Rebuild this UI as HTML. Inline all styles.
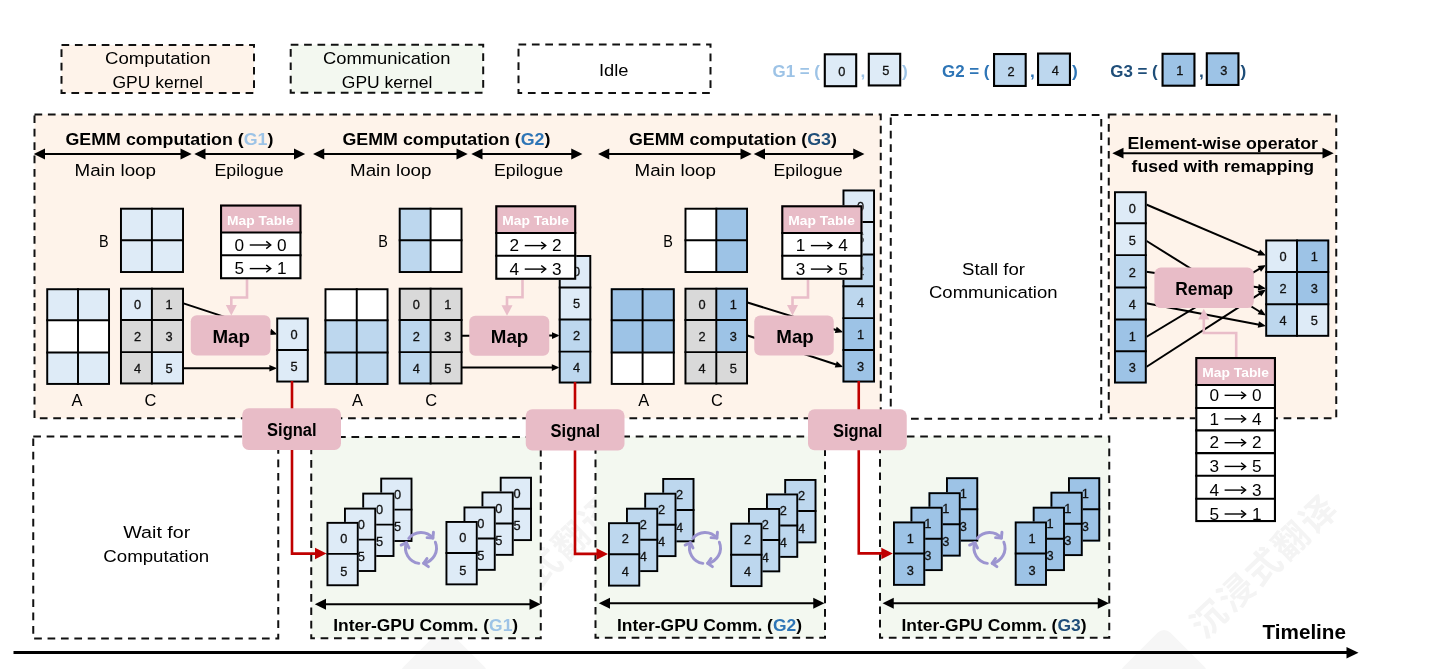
<!DOCTYPE html>
<html lang="en">
<head>
<meta charset="utf-8">
<title>GEMM computation / communication overlap timeline</title>
<style>
html,body{margin:0;padding:0;background:#fff;}
body{width:1440px;height:669px;overflow:hidden;}
svg{display:block;transform:translateZ(0);will-change:transform;}
text{white-space:pre;}
</style>
</head>
<body>
<svg width="1440" height="669" viewBox="0 0 1440 669" font-family='"Liberation Sans", sans-serif'>
<rect width="1440" height="669" fill="#fff"/>
<text transform="translate(544.5 566) rotate(-43.6)" font-family='"Liberation Sans","Noto Sans CJK SC",sans-serif' font-size="35" font-weight="bold" fill="#F4F4F4" text-anchor="middle" dominant-baseline="central" letter-spacing="2.7">沉浸式翻译</text>
<text transform="translate(1264.5 566) rotate(-43.6)" font-family='"Liberation Sans","Noto Sans CJK SC",sans-serif' font-size="35" font-weight="bold" fill="#F4F4F4" text-anchor="middle" dominant-baseline="central" letter-spacing="2.7">沉浸式翻译</text>
<rect x="-33" y="-33" width="66" height="66" rx="9" ry="9" fill="#F6F6F6" transform="translate(444 673) rotate(45)"/>
<rect x="-33" y="-33" width="66" height="66" rx="9" ry="9" fill="#F6F6F6" transform="translate(1164 673) rotate(45)"/>
<rect x="61.5" y="45" width="192.5" height="48" fill="#FEF3EA" stroke="#111" stroke-width="2" stroke-dasharray="7.7 5.7"/>
<text x="105" y="63.75" font-size="16.9" font-weight="normal" fill="#000" text-anchor="start" textLength="105.5" lengthAdjust="spacingAndGlyphs">Computation</text>
<text x="112.5" y="87.5" font-size="16.9" font-weight="normal" fill="#000" text-anchor="start" textLength="90.5" lengthAdjust="spacingAndGlyphs">GPU kernel</text>
<rect x="290.7" y="44.7" width="192.5" height="48" fill="#F3F8F0" stroke="#111" stroke-width="2" stroke-dasharray="7.7 5.7"/>
<text x="323" y="63.7" font-size="16.9" font-weight="normal" fill="#000" text-anchor="start" textLength="127.5" lengthAdjust="spacingAndGlyphs">Communication</text>
<text x="341.8" y="87.7" font-size="16.9" font-weight="normal" fill="#000" text-anchor="start" textLength="90.5" lengthAdjust="spacingAndGlyphs">GPU kernel</text>
<rect x="518.5" y="44.5" width="192" height="48.5" fill="#fff" stroke="#111" stroke-width="2" stroke-dasharray="7.7 5.7"/>
<text x="599" y="76" font-size="16.9" font-weight="normal" fill="#000" text-anchor="start" textLength="29.5" lengthAdjust="spacingAndGlyphs">Idle</text>
<text x="772.5" y="76.75" font-size="17.3" font-weight="bold" fill="#9DC3E6" text-anchor="start" textLength="47.5" lengthAdjust="spacingAndGlyphs">G1 = (</text>
<rect x="824.8" y="54.3" width="31.4" height="31.9" fill="#DEEBF7" stroke="#000" stroke-width="2.1"/>
<text x="841.8" y="75.85" font-size="12.8" fill="#111" stroke="#111" stroke-width="0.3" text-anchor="middle">0</text>
<rect x="868.8" y="53.8" width="31.4" height="31.65" fill="#DEEBF7" stroke="#000" stroke-width="2.1"/>
<text x="885.8" y="75.22" font-size="12.8" fill="#111" stroke="#111" stroke-width="0.3" text-anchor="middle">5</text>
<text x="860.5" y="77" font-size="17.3" font-weight="bold" fill="#9DC3E6" text-anchor="start">,</text>
<text x="902" y="76.75" font-size="17.3" font-weight="bold" fill="#9DC3E6" text-anchor="start">)</text>
<text x="942" y="76.75" font-size="17.3" font-weight="bold" fill="#2E75B6" text-anchor="start" textLength="47.5" lengthAdjust="spacingAndGlyphs">G2 = (</text>
<rect x="994.05" y="54.05" width="31.65" height="31.9" fill="#BDD7EE" stroke="#000" stroke-width="2.1"/>
<text x="1011.17" y="75.6" font-size="12.8" fill="#111" stroke="#111" stroke-width="0.3" text-anchor="middle">2</text>
<rect x="1038.05" y="53.55" width="31.9" height="31.4" fill="#BDD7EE" stroke="#000" stroke-width="2.1"/>
<text x="1055.3" y="74.85" font-size="12.8" fill="#111" stroke="#111" stroke-width="0.3" text-anchor="middle">4</text>
<text x="1030" y="77" font-size="17.3" font-weight="bold" fill="#2E75B6" text-anchor="start">,</text>
<text x="1072" y="76.75" font-size="17.3" font-weight="bold" fill="#2E75B6" text-anchor="start">)</text>
<text x="1110.25" y="76.75" font-size="17.3" font-weight="bold" fill="#1F4E79" text-anchor="start" textLength="47.5" lengthAdjust="spacingAndGlyphs">G3 = (</text>
<rect x="1162.55" y="53.8" width="31.9" height="31.9" fill="#9DC3E6" stroke="#000" stroke-width="2.1"/>
<text x="1179.8" y="75.35" font-size="12.8" fill="#111" stroke="#111" stroke-width="0.3" text-anchor="middle">1</text>
<rect x="1206.8" y="53.3" width="31.65" height="31.65" fill="#9DC3E6" stroke="#000" stroke-width="2.1"/>
<text x="1223.92" y="74.72" font-size="12.8" fill="#111" stroke="#111" stroke-width="0.3" text-anchor="middle">3</text>
<text x="1199" y="77" font-size="17.3" font-weight="bold" fill="#1F4E79" text-anchor="start">,</text>
<text x="1240.5" y="76.75" font-size="17.3" font-weight="bold" fill="#1F4E79" text-anchor="start">)</text>
<rect x="34.5" y="114.5" width="846.25" height="303.75" fill="#FEF3EA" stroke="#111" stroke-width="2" stroke-dasharray="7.7 5.7"/>
<rect x="890.75" y="115" width="210.5" height="303.75" fill="#fff" stroke="#111" stroke-width="2" stroke-dasharray="7.7 5.7"/>
<rect x="1108.75" y="114.5" width="227.5" height="303.75" fill="#FEF3EA" stroke="#111" stroke-width="2" stroke-dasharray="7.7 5.7"/>
<rect x="33.25" y="436.5" width="245" height="202" fill="#fff" stroke="#111" stroke-width="2" stroke-dasharray="7.7 5.7"/>
<rect x="311.25" y="437" width="229.5" height="201.25" fill="#F3F8F0" stroke="#111" stroke-width="2" stroke-dasharray="7.7 5.7"/>
<rect x="595.5" y="436.5" width="229.5" height="201.25" fill="#F3F8F0" stroke="#111" stroke-width="2" stroke-dasharray="7.7 5.7"/>
<rect x="880" y="436.5" width="229.25" height="201.25" fill="#F3F8F0" stroke="#111" stroke-width="2" stroke-dasharray="7.7 5.7"/>
<text x="962" y="274.5" font-size="16.9" font-weight="normal" fill="#000" text-anchor="start" textLength="63" lengthAdjust="spacingAndGlyphs">Stall for</text>
<text x="929" y="298.25" font-size="16.9" font-weight="normal" fill="#000" text-anchor="start" textLength="128.5" lengthAdjust="spacingAndGlyphs">Communication</text>
<text x="123.25" y="537.5" font-size="16.9" font-weight="normal" fill="#000" text-anchor="start" textLength="67" lengthAdjust="spacingAndGlyphs">Wait for</text>
<text x="103.25" y="561.75" font-size="16.9" font-weight="normal" fill="#000" text-anchor="start" textLength="106" lengthAdjust="spacingAndGlyphs">Computation</text>
<text x="65.5" y="144.7" font-size="17.3" font-weight="bold" fill="#000" text-anchor="start" textLength="208" lengthAdjust="spacingAndGlyphs">GEMM computation (<tspan fill="#9DC3E6">G1</tspan>)</text>
<line x1="41.8" y1="154" x2="183.7" y2="154" stroke="#000" stroke-width="2"/>
<polygon points="33.8,154 45,148.6 45,159.4" fill="#000"/>
<polygon points="191.7,154 180.5,159.4 180.5,148.6" fill="#000"/>
<line x1="202.3" y1="154" x2="297.2" y2="154" stroke="#000" stroke-width="2"/>
<polygon points="194.3,154 205.5,148.6 205.5,159.4" fill="#000"/>
<polygon points="305.2,154 294,159.4 294,148.6" fill="#000"/>
<text x="74.5" y="176.1" font-size="16.9" font-weight="normal" fill="#000" text-anchor="start" textLength="81.5" lengthAdjust="spacingAndGlyphs">Main loop</text>
<text x="214.5" y="176.1" font-size="16.9" font-weight="normal" fill="#000" text-anchor="start" textLength="69" lengthAdjust="spacingAndGlyphs">Epilogue</text>
<rect x="120" y="207.75" width="31.9" height="32.55" fill="#DEEBF7"/>
<rect x="151.9" y="207.75" width="32.1" height="32.55" fill="#DEEBF7"/>
<rect x="120" y="240.3" width="31.9" height="32.7" fill="#DEEBF7"/>
<rect x="151.9" y="240.3" width="32.1" height="32.7" fill="#DEEBF7"/>
<rect x="120.97" y="208.72" width="62.05" height="63.3" fill="none" stroke="#000" stroke-width="1.95"/>
<line x1="151.9" y1="207.75" x2="151.9" y2="273" stroke="#000" stroke-width="1.95"/>
<line x1="120" y1="240.3" x2="184" y2="240.3" stroke="#000" stroke-width="1.95"/>
<text x="99" y="246.8" font-size="15.7" font-weight="normal" fill="#000" text-anchor="start" textLength="9.6" lengthAdjust="spacingAndGlyphs">B</text>
<rect x="46.25" y="288.25" width="31.75" height="32.05" fill="#DEEBF7"/>
<rect x="78" y="288.25" width="32" height="32.05" fill="#DEEBF7"/>
<rect x="46.25" y="320.3" width="31.75" height="32.2" fill="#fff"/>
<rect x="78" y="320.3" width="32" height="32.2" fill="#fff"/>
<rect x="46.25" y="352.5" width="31.75" height="32.4" fill="#DEEBF7"/>
<rect x="78" y="352.5" width="32" height="32.4" fill="#DEEBF7"/>
<rect x="47.23" y="289.23" width="61.8" height="94.7" fill="none" stroke="#000" stroke-width="1.95"/>
<line x1="78" y1="288.25" x2="78" y2="384.9" stroke="#000" stroke-width="1.95"/>
<line x1="46.25" y1="320.3" x2="110" y2="320.3" stroke="#000" stroke-width="1.95"/>
<line x1="46.25" y1="352.5" x2="110" y2="352.5" stroke="#000" stroke-width="1.95"/>
<text x="77.03" y="405.7" font-size="16.4" font-weight="normal" fill="#000" text-anchor="middle">A</text>
<rect x="120" y="287.75" width="31.9" height="32.25" fill="#DEEBF7"/>
<rect x="151.9" y="287.75" width="32.1" height="32.25" fill="#D9D9D9"/>
<rect x="120" y="320" width="31.9" height="32.1" fill="#D9D9D9"/>
<rect x="151.9" y="320" width="32.1" height="32.1" fill="#D9D9D9"/>
<rect x="120" y="352.1" width="31.9" height="32.3" fill="#D9D9D9"/>
<rect x="151.9" y="352.1" width="32.1" height="32.3" fill="#DEEBF7"/>
<rect x="120.97" y="288.73" width="62.05" height="94.7" fill="none" stroke="#000" stroke-width="1.95"/>
<line x1="151.9" y1="287.75" x2="151.9" y2="384.4" stroke="#000" stroke-width="1.95"/>
<line x1="120" y1="320" x2="184" y2="320" stroke="#000" stroke-width="1.95"/>
<line x1="120" y1="352.1" x2="184" y2="352.1" stroke="#000" stroke-width="1.95"/>
<text x="150.5" y="405.7" font-size="16.4" font-weight="normal" fill="#000" text-anchor="middle">C</text>
<text x="137.6" y="309" font-size="12.8" fill="#111" stroke="#111" stroke-width="0.3" text-anchor="middle">0</text>
<text x="169.1" y="309" font-size="12.8" fill="#111" stroke="#111" stroke-width="0.3" text-anchor="middle">1</text>
<text x="137.6" y="341" font-size="12.8" fill="#111" stroke="#111" stroke-width="0.3" text-anchor="middle">2</text>
<text x="169.1" y="341" font-size="12.8" fill="#111" stroke="#111" stroke-width="0.3" text-anchor="middle">3</text>
<text x="137.6" y="372.9" font-size="12.8" fill="#111" stroke="#111" stroke-width="0.3" text-anchor="middle">4</text>
<text x="169.1" y="372.9" font-size="12.8" fill="#111" stroke="#111" stroke-width="0.3" text-anchor="middle">5</text>
<line x1="183.5" y1="303.4" x2="272" y2="332.6" stroke="#000" stroke-width="2"/>
<polygon points="277.4,334.4 268.96,335.1 271.02,328.83" fill="#000"/>
<line x1="183.5" y1="368.3" x2="270.4" y2="368.3" stroke="#000" stroke-width="2"/>
<polygon points="277.2,368.3 269.4,371.6 269.4,365" fill="#000"/>
<rect x="276.25" y="317.5" width="32.5" height="32.5" fill="#DEEBF7"/>
<rect x="276.25" y="350" width="32.5" height="32.5" fill="#DEEBF7"/>
<rect x="277.23" y="318.48" width="30.55" height="63.05" fill="none" stroke="#000" stroke-width="1.95"/>
<line x1="276.25" y1="350" x2="308.75" y2="350" stroke="#000" stroke-width="1.95"/>
<text x="294" y="339" font-size="12.8" fill="#111" stroke="#111" stroke-width="0.3" text-anchor="middle">0</text>
<text x="294" y="370.8" font-size="12.8" fill="#111" stroke="#111" stroke-width="0.3" text-anchor="middle">5</text>
<rect x="190.75" y="315.25" width="79.75" height="40.25" rx="6" ry="6" fill="#E8BCC7"/>
<text x="212.5" y="342.8" font-size="17.9" font-weight="bold" fill="#000" text-anchor="start" textLength="37.5" lengthAdjust="spacingAndGlyphs">Map</text>
<polyline points="247,278 247,297.5 231.3,297.5 231.3,309.5" fill="none" stroke="#E9BDC9" stroke-width="2.6"/>
<polygon points="231.3,315.5 225.8,305 236.8,305" fill="#E9BDC9"/>
<rect x="220" y="204.5" width="81.5" height="28" fill="#E8BCC7"/>
<rect x="220" y="232.5" width="81.5" height="46.8" fill="#fff"/>
<rect x="221.05" y="205.55" width="79.4" height="72.7" fill="none" stroke="#000" stroke-width="2.1"/>
<line x1="220" y1="232.5" x2="301.5" y2="232.5" stroke="#000" stroke-width="2.1"/>
<line x1="220" y1="255.2" x2="301.5" y2="255.2" stroke="#000" stroke-width="2.1"/>
<text x="227.1" y="224.6" font-size="13.6" font-weight="bold" fill="#fff" text-anchor="start" textLength="66.5" lengthAdjust="spacingAndGlyphs">Map Table</text>
<text x="234.55" y="250.6" font-size="17.2" font-weight="normal" fill="#000" text-anchor="start">0</text>
<text x="277.05" y="250.6" font-size="17.2" font-weight="normal" fill="#000" text-anchor="start">0</text>
<line x1="249.75" y1="245" x2="270.25" y2="245" stroke="#000" stroke-width="1.4"/>
<polyline points="266.25,241.4 270.75,245 266.25,248.6" fill="none" stroke="#000" stroke-width="1.4"/>
<text x="234.55" y="274.2" font-size="17.2" font-weight="normal" fill="#000" text-anchor="start">5</text>
<text x="277.05" y="274.2" font-size="17.2" font-weight="normal" fill="#000" text-anchor="start">1</text>
<line x1="249.75" y1="268.6" x2="270.25" y2="268.6" stroke="#000" stroke-width="1.4"/>
<polyline points="266.25,265 270.75,268.6 266.25,272.2" fill="none" stroke="#000" stroke-width="1.4"/>
<text x="342.5" y="144.7" font-size="17.3" font-weight="bold" fill="#000" text-anchor="start" textLength="208" lengthAdjust="spacingAndGlyphs">GEMM computation (<tspan fill="#2E75B6">G2</tspan>)</text>
<line x1="321.05" y1="154" x2="459.7" y2="154" stroke="#000" stroke-width="2"/>
<polygon points="313.05,154 324.25,148.6 324.25,159.4" fill="#000"/>
<polygon points="467.7,154 456.5,159.4 456.5,148.6" fill="#000"/>
<line x1="479.3" y1="154" x2="574.45" y2="154" stroke="#000" stroke-width="2"/>
<polygon points="471.3,154 482.5,148.6 482.5,159.4" fill="#000"/>
<polygon points="582.45,154 571.25,159.4 571.25,148.6" fill="#000"/>
<text x="350" y="176.1" font-size="16.9" font-weight="normal" fill="#000" text-anchor="start" textLength="81.5" lengthAdjust="spacingAndGlyphs">Main loop</text>
<text x="494" y="176.1" font-size="16.9" font-weight="normal" fill="#000" text-anchor="start" textLength="69" lengthAdjust="spacingAndGlyphs">Epilogue</text>
<rect x="398.75" y="207.75" width="31.85" height="32.55" fill="#BDD7EE"/>
<rect x="430.6" y="207.75" width="31.9" height="32.55" fill="#fff"/>
<rect x="398.75" y="240.3" width="31.85" height="32.7" fill="#BDD7EE"/>
<rect x="430.6" y="240.3" width="31.9" height="32.7" fill="#fff"/>
<rect x="399.73" y="208.72" width="61.8" height="63.3" fill="none" stroke="#000" stroke-width="1.95"/>
<line x1="430.6" y1="207.75" x2="430.6" y2="273" stroke="#000" stroke-width="1.95"/>
<line x1="398.75" y1="240.3" x2="462.5" y2="240.3" stroke="#000" stroke-width="1.95"/>
<text x="378.3" y="246.8" font-size="15.7" font-weight="normal" fill="#000" text-anchor="start" textLength="9.6" lengthAdjust="spacingAndGlyphs">B</text>
<rect x="324.5" y="288.25" width="32.25" height="32.05" fill="#fff"/>
<rect x="356.75" y="288.25" width="31.75" height="32.05" fill="#fff"/>
<rect x="324.5" y="320.3" width="32.25" height="32.2" fill="#BDD7EE"/>
<rect x="356.75" y="320.3" width="31.75" height="32.2" fill="#BDD7EE"/>
<rect x="324.5" y="352.5" width="32.25" height="32.4" fill="#BDD7EE"/>
<rect x="356.75" y="352.5" width="31.75" height="32.4" fill="#BDD7EE"/>
<rect x="325.48" y="289.23" width="62.05" height="94.7" fill="none" stroke="#000" stroke-width="1.95"/>
<line x1="356.75" y1="288.25" x2="356.75" y2="384.9" stroke="#000" stroke-width="1.95"/>
<line x1="324.5" y1="320.3" x2="388.5" y2="320.3" stroke="#000" stroke-width="1.95"/>
<line x1="324.5" y1="352.5" x2="388.5" y2="352.5" stroke="#000" stroke-width="1.95"/>
<text x="357.5" y="405.7" font-size="16.4" font-weight="normal" fill="#000" text-anchor="middle">A</text>
<rect x="398.75" y="287.75" width="31.85" height="32.25" fill="#D9D9D9"/>
<rect x="430.6" y="287.75" width="31.9" height="32.25" fill="#D9D9D9"/>
<rect x="398.75" y="320" width="31.85" height="32.1" fill="#BDD7EE"/>
<rect x="430.6" y="320" width="31.9" height="32.1" fill="#D9D9D9"/>
<rect x="398.75" y="352.1" width="31.85" height="32.3" fill="#BDD7EE"/>
<rect x="430.6" y="352.1" width="31.9" height="32.3" fill="#D9D9D9"/>
<rect x="399.73" y="288.73" width="61.8" height="94.7" fill="none" stroke="#000" stroke-width="1.95"/>
<line x1="430.6" y1="287.75" x2="430.6" y2="384.4" stroke="#000" stroke-width="1.95"/>
<line x1="398.75" y1="320" x2="462.5" y2="320" stroke="#000" stroke-width="1.95"/>
<line x1="398.75" y1="352.1" x2="462.5" y2="352.1" stroke="#000" stroke-width="1.95"/>
<text x="431.23" y="405.7" font-size="16.4" font-weight="normal" fill="#000" text-anchor="middle">C</text>
<text x="416.32" y="309" font-size="12.8" fill="#111" stroke="#111" stroke-width="0.3" text-anchor="middle">0</text>
<text x="447.7" y="309" font-size="12.8" fill="#111" stroke="#111" stroke-width="0.3" text-anchor="middle">1</text>
<text x="416.32" y="341" font-size="12.8" fill="#111" stroke="#111" stroke-width="0.3" text-anchor="middle">2</text>
<text x="447.7" y="341" font-size="12.8" fill="#111" stroke="#111" stroke-width="0.3" text-anchor="middle">3</text>
<text x="416.32" y="372.9" font-size="12.8" fill="#111" stroke="#111" stroke-width="0.3" text-anchor="middle">4</text>
<text x="447.7" y="372.9" font-size="12.8" fill="#111" stroke="#111" stroke-width="0.3" text-anchor="middle">5</text>
<line x1="462" y1="335.7" x2="552" y2="335.6" stroke="#000" stroke-width="2"/>
<polygon points="559.8,335.6 552,338.9 552,332.3" fill="#000"/>
<line x1="462" y1="367.6" x2="552.8" y2="367.6" stroke="#000" stroke-width="2"/>
<polygon points="559.6,367.6 551.8,370.9 551.8,364.3" fill="#000"/>
<rect x="558.75" y="255" width="32.5" height="32.5" fill="#DEEBF7"/>
<rect x="558.75" y="287.5" width="32.5" height="31.9" fill="#DEEBF7"/>
<rect x="558.75" y="319.4" width="32.5" height="32.2" fill="#BDD7EE"/>
<rect x="558.75" y="351.6" width="32.5" height="31.9" fill="#BDD7EE"/>
<rect x="559.73" y="255.97" width="30.55" height="126.55" fill="none" stroke="#000" stroke-width="1.95"/>
<line x1="558.75" y1="287.5" x2="591.25" y2="287.5" stroke="#000" stroke-width="1.95"/>
<line x1="558.75" y1="319.4" x2="591.25" y2="319.4" stroke="#000" stroke-width="1.95"/>
<line x1="558.75" y1="351.6" x2="591.25" y2="351.6" stroke="#000" stroke-width="1.95"/>
<text x="576.6" y="276.3" font-size="12.8" fill="#111" stroke="#111" stroke-width="0.3" text-anchor="middle">0</text>
<text x="576.6" y="308.2" font-size="12.8" fill="#111" stroke="#111" stroke-width="0.3" text-anchor="middle">5</text>
<text x="576.6" y="340.1" font-size="12.8" fill="#111" stroke="#111" stroke-width="0.3" text-anchor="middle">2</text>
<text x="576.6" y="372" font-size="12.8" fill="#111" stroke="#111" stroke-width="0.3" text-anchor="middle">4</text>
<rect x="469.25" y="315.75" width="80" height="40" rx="6" ry="6" fill="#E8BCC7"/>
<text x="490.8" y="343.2" font-size="17.9" font-weight="bold" fill="#000" text-anchor="start" textLength="37.5" lengthAdjust="spacingAndGlyphs">Map</text>
<polyline points="522.5,278.5 522.5,297.2 507,297.2 507,309.8" fill="none" stroke="#E9BDC9" stroke-width="2.6"/>
<polygon points="507,315.8 501.5,305.3 512.5,305.3" fill="#E9BDC9"/>
<rect x="495.25" y="205.25" width="81" height="27.75" fill="#E8BCC7"/>
<rect x="495.25" y="233" width="81" height="46.8" fill="#fff"/>
<rect x="496.3" y="206.3" width="78.9" height="72.45" fill="none" stroke="#000" stroke-width="2.1"/>
<line x1="495.25" y1="233" x2="576.25" y2="233" stroke="#000" stroke-width="2.1"/>
<line x1="495.25" y1="255.8" x2="576.25" y2="255.8" stroke="#000" stroke-width="2.1"/>
<text x="502.35" y="225.35" font-size="13.6" font-weight="bold" fill="#fff" text-anchor="start" textLength="66.5" lengthAdjust="spacingAndGlyphs">Map Table</text>
<text x="509.55" y="251.2" font-size="17.2" font-weight="normal" fill="#000" text-anchor="start">2</text>
<text x="552.05" y="251.2" font-size="17.2" font-weight="normal" fill="#000" text-anchor="start">2</text>
<line x1="524.75" y1="245.6" x2="545.25" y2="245.6" stroke="#000" stroke-width="1.4"/>
<polyline points="541.25,242 545.75,245.6 541.25,249.2" fill="none" stroke="#000" stroke-width="1.4"/>
<text x="509.55" y="274.7" font-size="17.2" font-weight="normal" fill="#000" text-anchor="start">4</text>
<text x="552.05" y="274.7" font-size="17.2" font-weight="normal" fill="#000" text-anchor="start">3</text>
<line x1="524.75" y1="269.1" x2="545.25" y2="269.1" stroke="#000" stroke-width="1.4"/>
<polyline points="541.25,265.5 545.75,269.1 541.25,272.7" fill="none" stroke="#000" stroke-width="1.4"/>
<text x="629" y="144.7" font-size="17.3" font-weight="bold" fill="#000" text-anchor="start" textLength="208" lengthAdjust="spacingAndGlyphs">GEMM computation (<tspan fill="#1F4E79">G3</tspan>)</text>
<line x1="606.05" y1="154" x2="743.7" y2="154" stroke="#000" stroke-width="2"/>
<polygon points="598.05,154 609.25,148.6 609.25,159.4" fill="#000"/>
<polygon points="751.7,154 740.5,159.4 740.5,148.6" fill="#000"/>
<line x1="761.8" y1="154" x2="856.45" y2="154" stroke="#000" stroke-width="2"/>
<polygon points="753.8,154 765,148.6 765,159.4" fill="#000"/>
<polygon points="864.45,154 853.25,159.4 853.25,148.6" fill="#000"/>
<text x="634.5" y="176.1" font-size="16.9" font-weight="normal" fill="#000" text-anchor="start" textLength="81.5" lengthAdjust="spacingAndGlyphs">Main loop</text>
<text x="773.5" y="176.1" font-size="16.9" font-weight="normal" fill="#000" text-anchor="start" textLength="69" lengthAdjust="spacingAndGlyphs">Epilogue</text>
<rect x="684.5" y="207.75" width="31.8" height="32.55" fill="#fff"/>
<rect x="716.3" y="207.75" width="31.7" height="32.55" fill="#9DC3E6"/>
<rect x="684.5" y="240.3" width="31.8" height="32.7" fill="#fff"/>
<rect x="716.3" y="240.3" width="31.7" height="32.7" fill="#9DC3E6"/>
<rect x="685.48" y="208.72" width="61.55" height="63.3" fill="none" stroke="#000" stroke-width="1.95"/>
<line x1="716.3" y1="207.75" x2="716.3" y2="273" stroke="#000" stroke-width="1.95"/>
<line x1="684.5" y1="240.3" x2="748" y2="240.3" stroke="#000" stroke-width="1.95"/>
<text x="663.3" y="246.8" font-size="15.7" font-weight="normal" fill="#000" text-anchor="start" textLength="9.6" lengthAdjust="spacingAndGlyphs">B</text>
<rect x="610.75" y="288.25" width="31.85" height="32.05" fill="#9DC3E6"/>
<rect x="642.6" y="288.25" width="32.15" height="32.05" fill="#9DC3E6"/>
<rect x="610.75" y="320.3" width="31.85" height="32.2" fill="#9DC3E6"/>
<rect x="642.6" y="320.3" width="32.15" height="32.2" fill="#9DC3E6"/>
<rect x="610.75" y="352.5" width="31.85" height="32.4" fill="#fff"/>
<rect x="642.6" y="352.5" width="32.15" height="32.4" fill="#fff"/>
<rect x="611.73" y="289.23" width="62.05" height="94.7" fill="none" stroke="#000" stroke-width="1.95"/>
<line x1="642.6" y1="288.25" x2="642.6" y2="384.9" stroke="#000" stroke-width="1.95"/>
<line x1="610.75" y1="320.3" x2="674.75" y2="320.3" stroke="#000" stroke-width="1.95"/>
<line x1="610.75" y1="352.5" x2="674.75" y2="352.5" stroke="#000" stroke-width="1.95"/>
<text x="643.75" y="405.7" font-size="16.4" font-weight="normal" fill="#000" text-anchor="middle">A</text>
<rect x="684.5" y="287.75" width="31.8" height="32.25" fill="#D9D9D9"/>
<rect x="716.3" y="287.75" width="31.7" height="32.25" fill="#9DC3E6"/>
<rect x="684.5" y="320" width="31.8" height="32.1" fill="#D9D9D9"/>
<rect x="716.3" y="320" width="31.7" height="32.1" fill="#9DC3E6"/>
<rect x="684.5" y="352.1" width="31.8" height="32.3" fill="#D9D9D9"/>
<rect x="716.3" y="352.1" width="31.7" height="32.3" fill="#D9D9D9"/>
<rect x="685.48" y="288.73" width="61.55" height="94.7" fill="none" stroke="#000" stroke-width="1.95"/>
<line x1="716.3" y1="287.75" x2="716.3" y2="384.4" stroke="#000" stroke-width="1.95"/>
<line x1="684.5" y1="320" x2="748" y2="320" stroke="#000" stroke-width="1.95"/>
<line x1="684.5" y1="352.1" x2="748" y2="352.1" stroke="#000" stroke-width="1.95"/>
<text x="717" y="405.7" font-size="16.4" font-weight="normal" fill="#000" text-anchor="middle">C</text>
<text x="702.05" y="309" font-size="12.8" fill="#111" stroke="#111" stroke-width="0.3" text-anchor="middle">0</text>
<text x="733.3" y="309" font-size="12.8" fill="#111" stroke="#111" stroke-width="0.3" text-anchor="middle">1</text>
<text x="702.05" y="341" font-size="12.8" fill="#111" stroke="#111" stroke-width="0.3" text-anchor="middle">2</text>
<text x="733.3" y="341" font-size="12.8" fill="#111" stroke="#111" stroke-width="0.3" text-anchor="middle">3</text>
<text x="702.05" y="372.9" font-size="12.8" fill="#111" stroke="#111" stroke-width="0.3" text-anchor="middle">4</text>
<text x="733.3" y="372.9" font-size="12.8" fill="#111" stroke="#111" stroke-width="0.3" text-anchor="middle">5</text>
<line x1="747.5" y1="302.5" x2="836" y2="329.95" stroke="#000" stroke-width="2"/>
<polygon points="843.2,332.2 834.77,333.04 836.73,326.74" fill="#000"/>
<line x1="747.5" y1="335.5" x2="836" y2="364.5" stroke="#000" stroke-width="2"/>
<polygon points="843.2,366.9 834.76,367.6 836.82,361.33" fill="#000"/>
<rect x="842.5" y="189.5" width="32.5" height="32.5" fill="#DEEBF7"/>
<rect x="842.5" y="222" width="32.5" height="32.4" fill="#DEEBF7"/>
<rect x="842.5" y="254.4" width="32.5" height="31.9" fill="#BDD7EE"/>
<rect x="842.5" y="286.3" width="32.5" height="31.8" fill="#BDD7EE"/>
<rect x="842.5" y="318.1" width="32.5" height="31.9" fill="#9DC3E6"/>
<rect x="842.5" y="350" width="32.5" height="32.5" fill="#9DC3E6"/>
<rect x="843.48" y="190.47" width="30.55" height="191.05" fill="none" stroke="#000" stroke-width="1.95"/>
<line x1="842.5" y1="222" x2="875" y2="222" stroke="#000" stroke-width="1.95"/>
<line x1="842.5" y1="254.4" x2="875" y2="254.4" stroke="#000" stroke-width="1.95"/>
<line x1="842.5" y1="286.3" x2="875" y2="286.3" stroke="#000" stroke-width="1.95"/>
<line x1="842.5" y1="318.1" x2="875" y2="318.1" stroke="#000" stroke-width="1.95"/>
<line x1="842.5" y1="350" x2="875" y2="350" stroke="#000" stroke-width="1.95"/>
<text x="860.6" y="210.8" font-size="12.8" fill="#111" stroke="#111" stroke-width="0.3" text-anchor="middle">0</text>
<text x="860.6" y="242.9" font-size="12.8" fill="#111" stroke="#111" stroke-width="0.3" text-anchor="middle">5</text>
<text x="860.6" y="275" font-size="12.8" fill="#111" stroke="#111" stroke-width="0.3" text-anchor="middle">2</text>
<text x="860.6" y="306.9" font-size="12.8" fill="#111" stroke="#111" stroke-width="0.3" text-anchor="middle">4</text>
<text x="860.6" y="338.8" font-size="12.8" fill="#111" stroke="#111" stroke-width="0.3" text-anchor="middle">1</text>
<text x="860.6" y="370.7" font-size="12.8" fill="#111" stroke="#111" stroke-width="0.3" text-anchor="middle">3</text>
<rect x="754.25" y="315.6" width="79.5" height="40" rx="6" ry="6" fill="#E8BCC7"/>
<text x="776.3" y="342.8" font-size="17.9" font-weight="bold" fill="#000" text-anchor="start" textLength="37.5" lengthAdjust="spacingAndGlyphs">Map</text>
<polyline points="808,278.5 808,297.5 792.5,297.5 792.5,309.6" fill="none" stroke="#E9BDC9" stroke-width="2.6"/>
<polygon points="792.5,315.6 787,305.1 798,305.1" fill="#E9BDC9"/>
<rect x="781.25" y="205.25" width="81.25" height="27.75" fill="#E8BCC7"/>
<rect x="781.25" y="233" width="81.25" height="46.8" fill="#fff"/>
<rect x="782.3" y="206.3" width="79.15" height="72.45" fill="none" stroke="#000" stroke-width="2.1"/>
<line x1="781.25" y1="233" x2="862.5" y2="233" stroke="#000" stroke-width="2.1"/>
<line x1="781.25" y1="255.8" x2="862.5" y2="255.8" stroke="#000" stroke-width="2.1"/>
<text x="788.35" y="225.35" font-size="13.6" font-weight="bold" fill="#fff" text-anchor="start" textLength="66.5" lengthAdjust="spacingAndGlyphs">Map Table</text>
<text x="795.67" y="251.2" font-size="17.2" font-weight="normal" fill="#000" text-anchor="start">1</text>
<text x="838.17" y="251.2" font-size="17.2" font-weight="normal" fill="#000" text-anchor="start">4</text>
<line x1="810.88" y1="245.6" x2="831.38" y2="245.6" stroke="#000" stroke-width="1.4"/>
<polyline points="827.38,242 831.88,245.6 827.38,249.2" fill="none" stroke="#000" stroke-width="1.4"/>
<text x="795.67" y="274.7" font-size="17.2" font-weight="normal" fill="#000" text-anchor="start">3</text>
<text x="838.17" y="274.7" font-size="17.2" font-weight="normal" fill="#000" text-anchor="start">5</text>
<line x1="810.88" y1="269.1" x2="831.38" y2="269.1" stroke="#000" stroke-width="1.4"/>
<polyline points="827.38,265.5 831.88,269.1 827.38,272.7" fill="none" stroke="#000" stroke-width="1.4"/>
<rect x="380.25" y="477.65" width="32.2" height="31.95" fill="#DEEBF7"/>
<rect x="380.25" y="509.6" width="32.2" height="32.35" fill="#DEEBF7"/>
<rect x="381.2" y="478.6" width="30.3" height="62.4" fill="none" stroke="#000" stroke-width="1.9"/>
<line x1="380.25" y1="509.6" x2="412.45" y2="509.6" stroke="#000" stroke-width="1.9"/>
<text x="397.6" y="498.8" font-size="12.8" fill="#111" stroke="#111" stroke-width="0.3" text-anchor="middle">0</text>
<text x="397.6" y="531.3" font-size="12.8" fill="#111" stroke="#111" stroke-width="0.3" text-anchor="middle">5</text>
<rect x="362.25" y="492.65" width="32.2" height="31.95" fill="#DEEBF7"/>
<rect x="362.25" y="524.6" width="32.2" height="32.35" fill="#DEEBF7"/>
<rect x="363.2" y="493.6" width="30.3" height="62.4" fill="none" stroke="#000" stroke-width="1.9"/>
<line x1="362.25" y1="524.6" x2="394.45" y2="524.6" stroke="#000" stroke-width="1.9"/>
<text x="379.6" y="513.8" font-size="12.8" fill="#111" stroke="#111" stroke-width="0.3" text-anchor="middle">0</text>
<text x="379.6" y="546.3" font-size="12.8" fill="#111" stroke="#111" stroke-width="0.3" text-anchor="middle">5</text>
<rect x="344" y="507.65" width="32.2" height="31.95" fill="#DEEBF7"/>
<rect x="344" y="539.6" width="32.2" height="32.35" fill="#DEEBF7"/>
<rect x="344.95" y="508.6" width="30.3" height="62.4" fill="none" stroke="#000" stroke-width="1.9"/>
<line x1="344" y1="539.6" x2="376.2" y2="539.6" stroke="#000" stroke-width="1.9"/>
<text x="361.35" y="528.8" font-size="12.8" fill="#111" stroke="#111" stroke-width="0.3" text-anchor="middle">0</text>
<text x="361.35" y="561.3" font-size="12.8" fill="#111" stroke="#111" stroke-width="0.3" text-anchor="middle">5</text>
<rect x="326.5" y="521.9" width="32.2" height="31.95" fill="#DEEBF7"/>
<rect x="326.5" y="553.85" width="32.2" height="32.35" fill="#DEEBF7"/>
<rect x="327.45" y="522.85" width="30.3" height="62.4" fill="none" stroke="#000" stroke-width="1.9"/>
<line x1="326.5" y1="553.85" x2="358.7" y2="553.85" stroke="#000" stroke-width="1.9"/>
<text x="343.85" y="543.05" font-size="12.8" fill="#111" stroke="#111" stroke-width="0.3" text-anchor="middle">0</text>
<text x="343.85" y="575.55" font-size="12.8" fill="#111" stroke="#111" stroke-width="0.3" text-anchor="middle">5</text>
<rect x="499.75" y="476.75" width="32.2" height="31.95" fill="#DEEBF7"/>
<rect x="499.75" y="508.7" width="32.2" height="32.35" fill="#DEEBF7"/>
<rect x="500.7" y="477.7" width="30.3" height="62.4" fill="none" stroke="#000" stroke-width="1.9"/>
<line x1="499.75" y1="508.7" x2="531.95" y2="508.7" stroke="#000" stroke-width="1.9"/>
<text x="517.1" y="497.9" font-size="12.8" fill="#111" stroke="#111" stroke-width="0.3" text-anchor="middle">0</text>
<text x="517.1" y="530.4" font-size="12.8" fill="#111" stroke="#111" stroke-width="0.3" text-anchor="middle">5</text>
<rect x="481.5" y="491.5" width="32.2" height="31.95" fill="#DEEBF7"/>
<rect x="481.5" y="523.45" width="32.2" height="32.35" fill="#DEEBF7"/>
<rect x="482.45" y="492.45" width="30.3" height="62.4" fill="none" stroke="#000" stroke-width="1.9"/>
<line x1="481.5" y1="523.45" x2="513.7" y2="523.45" stroke="#000" stroke-width="1.9"/>
<text x="498.85" y="512.65" font-size="12.8" fill="#111" stroke="#111" stroke-width="0.3" text-anchor="middle">0</text>
<text x="498.85" y="545.15" font-size="12.8" fill="#111" stroke="#111" stroke-width="0.3" text-anchor="middle">5</text>
<rect x="463.5" y="506.5" width="32.2" height="31.95" fill="#DEEBF7"/>
<rect x="463.5" y="538.45" width="32.2" height="32.35" fill="#DEEBF7"/>
<rect x="464.45" y="507.45" width="30.3" height="62.4" fill="none" stroke="#000" stroke-width="1.9"/>
<line x1="463.5" y1="538.45" x2="495.7" y2="538.45" stroke="#000" stroke-width="1.9"/>
<text x="480.85" y="527.65" font-size="12.8" fill="#111" stroke="#111" stroke-width="0.3" text-anchor="middle">0</text>
<text x="480.85" y="560.15" font-size="12.8" fill="#111" stroke="#111" stroke-width="0.3" text-anchor="middle">5</text>
<rect x="445.5" y="521" width="32.2" height="31.95" fill="#DEEBF7"/>
<rect x="445.5" y="552.95" width="32.2" height="32.35" fill="#DEEBF7"/>
<rect x="446.45" y="521.95" width="30.3" height="62.4" fill="none" stroke="#000" stroke-width="1.9"/>
<line x1="445.5" y1="552.95" x2="477.7" y2="552.95" stroke="#000" stroke-width="1.9"/>
<text x="462.85" y="542.15" font-size="12.8" fill="#111" stroke="#111" stroke-width="0.3" text-anchor="middle">0</text>
<text x="462.85" y="574.65" font-size="12.8" fill="#111" stroke="#111" stroke-width="0.3" text-anchor="middle">5</text>
<path d="M408.79 538.46 A15.5 15.5 0 0 1 432.87 538.04" fill="none" stroke="#9C95D0" stroke-width="2.95" stroke-linecap="round"/>
<polyline points="427.09,537.62 432.87,538.04 433.46,532.27" fill="none" stroke="#9C95D0" stroke-width="2.95" stroke-linecap="round" stroke-linejoin="round"/>
<path d="M435.37 542.19 A15.5 15.5 0 0 1 423.69 563.26" fill="none" stroke="#9C95D0" stroke-width="2.95" stroke-linecap="round"/>
<polyline points="426.95,558.47 423.69,563.26 428.39,566.66" fill="none" stroke="#9C95D0" stroke-width="2.95" stroke-linecap="round" stroke-linejoin="round"/>
<path d="M418.84 563.35 A15.5 15.5 0 0 1 406.43 542.7" fill="none" stroke="#9C95D0" stroke-width="2.95" stroke-linecap="round"/>
<polyline points="408.96,547.92 406.43,542.7 401.14,545.07" fill="none" stroke="#9C95D0" stroke-width="2.95" stroke-linecap="round" stroke-linejoin="round"/>
<line x1="322.8" y1="604.25" x2="532.7" y2="604.25" stroke="#000" stroke-width="2"/>
<polygon points="314.8,604.25 326,598.85 326,609.65" fill="#000"/>
<polygon points="540.7,604.25 529.5,609.65 529.5,598.85" fill="#000"/>
<text x="333.2" y="630.75" font-size="17.3" font-weight="bold" fill="#000" text-anchor="start" textLength="185" lengthAdjust="spacingAndGlyphs">Inter-GPU Comm. (<tspan fill="#9DC3E6">G1</tspan>)</text>
<rect x="662.25" y="478" width="32.2" height="31.95" fill="#BDD7EE"/>
<rect x="662.25" y="509.95" width="32.2" height="32.35" fill="#BDD7EE"/>
<rect x="663.2" y="478.95" width="30.3" height="62.4" fill="none" stroke="#000" stroke-width="1.9"/>
<line x1="662.25" y1="509.95" x2="694.45" y2="509.95" stroke="#000" stroke-width="1.9"/>
<text x="679.6" y="499.15" font-size="12.8" fill="#111" stroke="#111" stroke-width="0.3" text-anchor="middle">2</text>
<text x="679.6" y="531.65" font-size="12.8" fill="#111" stroke="#111" stroke-width="0.3" text-anchor="middle">4</text>
<rect x="644.25" y="492.75" width="32.2" height="31.95" fill="#BDD7EE"/>
<rect x="644.25" y="524.7" width="32.2" height="32.35" fill="#BDD7EE"/>
<rect x="645.2" y="493.7" width="30.3" height="62.4" fill="none" stroke="#000" stroke-width="1.9"/>
<line x1="644.25" y1="524.7" x2="676.45" y2="524.7" stroke="#000" stroke-width="1.9"/>
<text x="661.6" y="513.9" font-size="12.8" fill="#111" stroke="#111" stroke-width="0.3" text-anchor="middle">2</text>
<text x="661.6" y="546.4" font-size="12.8" fill="#111" stroke="#111" stroke-width="0.3" text-anchor="middle">4</text>
<rect x="626" y="507.75" width="32.2" height="31.95" fill="#BDD7EE"/>
<rect x="626" y="539.7" width="32.2" height="32.35" fill="#BDD7EE"/>
<rect x="626.95" y="508.7" width="30.3" height="62.4" fill="none" stroke="#000" stroke-width="1.9"/>
<line x1="626" y1="539.7" x2="658.2" y2="539.7" stroke="#000" stroke-width="1.9"/>
<text x="643.35" y="528.9" font-size="12.8" fill="#111" stroke="#111" stroke-width="0.3" text-anchor="middle">2</text>
<text x="643.35" y="561.4" font-size="12.8" fill="#111" stroke="#111" stroke-width="0.3" text-anchor="middle">4</text>
<rect x="608" y="522.25" width="32.2" height="31.95" fill="#BDD7EE"/>
<rect x="608" y="554.2" width="32.2" height="32.35" fill="#BDD7EE"/>
<rect x="608.95" y="523.2" width="30.3" height="62.4" fill="none" stroke="#000" stroke-width="1.9"/>
<line x1="608" y1="554.2" x2="640.2" y2="554.2" stroke="#000" stroke-width="1.9"/>
<text x="625.35" y="543.4" font-size="12.8" fill="#111" stroke="#111" stroke-width="0.3" text-anchor="middle">2</text>
<text x="625.35" y="575.9" font-size="12.8" fill="#111" stroke="#111" stroke-width="0.3" text-anchor="middle">4</text>
<rect x="784.25" y="479" width="32.2" height="31.95" fill="#BDD7EE"/>
<rect x="784.25" y="510.95" width="32.2" height="32.35" fill="#BDD7EE"/>
<rect x="785.2" y="479.95" width="30.3" height="62.4" fill="none" stroke="#000" stroke-width="1.9"/>
<line x1="784.25" y1="510.95" x2="816.45" y2="510.95" stroke="#000" stroke-width="1.9"/>
<text x="801.6" y="500.15" font-size="12.8" fill="#111" stroke="#111" stroke-width="0.3" text-anchor="middle">2</text>
<text x="801.6" y="532.65" font-size="12.8" fill="#111" stroke="#111" stroke-width="0.3" text-anchor="middle">4</text>
<rect x="766" y="493.5" width="32.2" height="31.95" fill="#BDD7EE"/>
<rect x="766" y="525.45" width="32.2" height="32.35" fill="#BDD7EE"/>
<rect x="766.95" y="494.45" width="30.3" height="62.4" fill="none" stroke="#000" stroke-width="1.9"/>
<line x1="766" y1="525.45" x2="798.2" y2="525.45" stroke="#000" stroke-width="1.9"/>
<text x="783.35" y="514.65" font-size="12.8" fill="#111" stroke="#111" stroke-width="0.3" text-anchor="middle">2</text>
<text x="783.35" y="547.15" font-size="12.8" fill="#111" stroke="#111" stroke-width="0.3" text-anchor="middle">4</text>
<rect x="748" y="508" width="32.2" height="31.95" fill="#BDD7EE"/>
<rect x="748" y="539.95" width="32.2" height="32.35" fill="#BDD7EE"/>
<rect x="748.95" y="508.95" width="30.3" height="62.4" fill="none" stroke="#000" stroke-width="1.9"/>
<line x1="748" y1="539.95" x2="780.2" y2="539.95" stroke="#000" stroke-width="1.9"/>
<text x="765.35" y="529.15" font-size="12.8" fill="#111" stroke="#111" stroke-width="0.3" text-anchor="middle">2</text>
<text x="765.35" y="561.65" font-size="12.8" fill="#111" stroke="#111" stroke-width="0.3" text-anchor="middle">4</text>
<rect x="730.25" y="522.75" width="32.2" height="31.95" fill="#BDD7EE"/>
<rect x="730.25" y="554.7" width="32.2" height="32.35" fill="#BDD7EE"/>
<rect x="731.2" y="523.7" width="30.3" height="62.4" fill="none" stroke="#000" stroke-width="1.9"/>
<line x1="730.25" y1="554.7" x2="762.45" y2="554.7" stroke="#000" stroke-width="1.9"/>
<text x="747.6" y="543.9" font-size="12.8" fill="#111" stroke="#111" stroke-width="0.3" text-anchor="middle">2</text>
<text x="747.6" y="576.4" font-size="12.8" fill="#111" stroke="#111" stroke-width="0.3" text-anchor="middle">4</text>
<path d="M692.79 538.46 A15.5 15.5 0 0 1 716.87 538.04" fill="none" stroke="#9C95D0" stroke-width="2.95" stroke-linecap="round"/>
<polyline points="711.09,537.62 716.87,538.04 717.46,532.27" fill="none" stroke="#9C95D0" stroke-width="2.95" stroke-linecap="round" stroke-linejoin="round"/>
<path d="M719.37 542.19 A15.5 15.5 0 0 1 707.69 563.26" fill="none" stroke="#9C95D0" stroke-width="2.95" stroke-linecap="round"/>
<polyline points="710.95,558.47 707.69,563.26 712.39,566.66" fill="none" stroke="#9C95D0" stroke-width="2.95" stroke-linecap="round" stroke-linejoin="round"/>
<path d="M702.84 563.35 A15.5 15.5 0 0 1 690.43 542.7" fill="none" stroke="#9C95D0" stroke-width="2.95" stroke-linecap="round"/>
<polyline points="692.96,547.92 690.43,542.7 685.14,545.07" fill="none" stroke="#9C95D0" stroke-width="2.95" stroke-linecap="round" stroke-linejoin="round"/>
<line x1="606.8" y1="603.25" x2="816.45" y2="603.25" stroke="#000" stroke-width="2"/>
<polygon points="598.8,603.25 610,597.85 610,608.65" fill="#000"/>
<polygon points="824.45,603.25 813.25,608.65 813.25,597.85" fill="#000"/>
<text x="617" y="630.5" font-size="17.3" font-weight="bold" fill="#000" text-anchor="start" textLength="185" lengthAdjust="spacingAndGlyphs">Inter-GPU Comm. (<tspan fill="#2E75B6">G2</tspan>)</text>
<rect x="946" y="477.25" width="32.2" height="31.95" fill="#9DC3E6"/>
<rect x="946" y="509.2" width="32.2" height="32.35" fill="#9DC3E6"/>
<rect x="946.95" y="478.2" width="30.3" height="62.4" fill="none" stroke="#000" stroke-width="1.9"/>
<line x1="946" y1="509.2" x2="978.2" y2="509.2" stroke="#000" stroke-width="1.9"/>
<text x="963.35" y="498.4" font-size="12.8" fill="#111" stroke="#111" stroke-width="0.3" text-anchor="middle">1</text>
<text x="963.35" y="530.9" font-size="12.8" fill="#111" stroke="#111" stroke-width="0.3" text-anchor="middle">3</text>
<rect x="928.5" y="492.25" width="32.2" height="31.95" fill="#9DC3E6"/>
<rect x="928.5" y="524.2" width="32.2" height="32.35" fill="#9DC3E6"/>
<rect x="929.45" y="493.2" width="30.3" height="62.4" fill="none" stroke="#000" stroke-width="1.9"/>
<line x1="928.5" y1="524.2" x2="960.7" y2="524.2" stroke="#000" stroke-width="1.9"/>
<text x="945.85" y="513.4" font-size="12.8" fill="#111" stroke="#111" stroke-width="0.3" text-anchor="middle">1</text>
<text x="945.85" y="545.9" font-size="12.8" fill="#111" stroke="#111" stroke-width="0.3" text-anchor="middle">3</text>
<rect x="910.5" y="506.75" width="32.2" height="31.95" fill="#9DC3E6"/>
<rect x="910.5" y="538.7" width="32.2" height="32.35" fill="#9DC3E6"/>
<rect x="911.45" y="507.7" width="30.3" height="62.4" fill="none" stroke="#000" stroke-width="1.9"/>
<line x1="910.5" y1="538.7" x2="942.7" y2="538.7" stroke="#000" stroke-width="1.9"/>
<text x="927.85" y="527.9" font-size="12.8" fill="#111" stroke="#111" stroke-width="0.3" text-anchor="middle">1</text>
<text x="927.85" y="560.4" font-size="12.8" fill="#111" stroke="#111" stroke-width="0.3" text-anchor="middle">3</text>
<rect x="893" y="521.5" width="32.2" height="31.95" fill="#9DC3E6"/>
<rect x="893" y="553.45" width="32.2" height="32.35" fill="#9DC3E6"/>
<rect x="893.95" y="522.45" width="30.3" height="62.4" fill="none" stroke="#000" stroke-width="1.9"/>
<line x1="893" y1="553.45" x2="925.2" y2="553.45" stroke="#000" stroke-width="1.9"/>
<text x="910.35" y="542.65" font-size="12.8" fill="#111" stroke="#111" stroke-width="0.3" text-anchor="middle">1</text>
<text x="910.35" y="575.15" font-size="12.8" fill="#111" stroke="#111" stroke-width="0.3" text-anchor="middle">3</text>
<rect x="1068" y="477.25" width="32.2" height="31.95" fill="#9DC3E6"/>
<rect x="1068" y="509.2" width="32.2" height="32.35" fill="#9DC3E6"/>
<rect x="1068.95" y="478.2" width="30.3" height="62.4" fill="none" stroke="#000" stroke-width="1.9"/>
<line x1="1068" y1="509.2" x2="1100.2" y2="509.2" stroke="#000" stroke-width="1.9"/>
<text x="1085.35" y="498.4" font-size="12.8" fill="#111" stroke="#111" stroke-width="0.3" text-anchor="middle">1</text>
<text x="1085.35" y="530.9" font-size="12.8" fill="#111" stroke="#111" stroke-width="0.3" text-anchor="middle">3</text>
<rect x="1050.5" y="491.75" width="32.2" height="31.95" fill="#9DC3E6"/>
<rect x="1050.5" y="523.7" width="32.2" height="32.35" fill="#9DC3E6"/>
<rect x="1051.45" y="492.7" width="30.3" height="62.4" fill="none" stroke="#000" stroke-width="1.9"/>
<line x1="1050.5" y1="523.7" x2="1082.7" y2="523.7" stroke="#000" stroke-width="1.9"/>
<text x="1067.85" y="512.9" font-size="12.8" fill="#111" stroke="#111" stroke-width="0.3" text-anchor="middle">1</text>
<text x="1067.85" y="545.4" font-size="12.8" fill="#111" stroke="#111" stroke-width="0.3" text-anchor="middle">3</text>
<rect x="1032.75" y="506.75" width="32.2" height="31.95" fill="#9DC3E6"/>
<rect x="1032.75" y="538.7" width="32.2" height="32.35" fill="#9DC3E6"/>
<rect x="1033.7" y="507.7" width="30.3" height="62.4" fill="none" stroke="#000" stroke-width="1.9"/>
<line x1="1032.75" y1="538.7" x2="1064.95" y2="538.7" stroke="#000" stroke-width="1.9"/>
<text x="1050.1" y="527.9" font-size="12.8" fill="#111" stroke="#111" stroke-width="0.3" text-anchor="middle">1</text>
<text x="1050.1" y="560.4" font-size="12.8" fill="#111" stroke="#111" stroke-width="0.3" text-anchor="middle">3</text>
<rect x="1014.75" y="521.5" width="32.2" height="31.95" fill="#9DC3E6"/>
<rect x="1014.75" y="553.45" width="32.2" height="32.35" fill="#9DC3E6"/>
<rect x="1015.7" y="522.45" width="30.3" height="62.4" fill="none" stroke="#000" stroke-width="1.9"/>
<line x1="1014.75" y1="553.45" x2="1046.95" y2="553.45" stroke="#000" stroke-width="1.9"/>
<text x="1032.1" y="542.65" font-size="12.8" fill="#111" stroke="#111" stroke-width="0.3" text-anchor="middle">1</text>
<text x="1032.1" y="575.15" font-size="12.8" fill="#111" stroke="#111" stroke-width="0.3" text-anchor="middle">3</text>
<path d="M977.29 538.46 A15.5 15.5 0 0 1 1001.37 538.04" fill="none" stroke="#9C95D0" stroke-width="2.95" stroke-linecap="round"/>
<polyline points="995.59,537.62 1001.37,538.04 1001.96,532.27" fill="none" stroke="#9C95D0" stroke-width="2.95" stroke-linecap="round" stroke-linejoin="round"/>
<path d="M1003.87 542.19 A15.5 15.5 0 0 1 992.19 563.26" fill="none" stroke="#9C95D0" stroke-width="2.95" stroke-linecap="round"/>
<polyline points="995.45,558.47 992.19,563.26 996.89,566.66" fill="none" stroke="#9C95D0" stroke-width="2.95" stroke-linecap="round" stroke-linejoin="round"/>
<path d="M987.34 563.35 A15.5 15.5 0 0 1 974.93 542.7" fill="none" stroke="#9C95D0" stroke-width="2.95" stroke-linecap="round"/>
<polyline points="977.46,547.92 974.93,542.7 969.64,545.07" fill="none" stroke="#9C95D0" stroke-width="2.95" stroke-linecap="round" stroke-linejoin="round"/>
<line x1="890.55" y1="603.25" x2="1100.95" y2="603.25" stroke="#000" stroke-width="2"/>
<polygon points="882.55,603.25 893.75,597.85 893.75,608.65" fill="#000"/>
<polygon points="1108.95,603.25 1097.75,608.65 1097.75,597.85" fill="#000"/>
<text x="901.5" y="630.5" font-size="17.3" font-weight="bold" fill="#000" text-anchor="start" textLength="185" lengthAdjust="spacingAndGlyphs">Inter-GPU Comm. (<tspan fill="#1F4E79">G3</tspan>)</text>
<line x1="292" y1="381" x2="292" y2="410.25" stroke="#C00000" stroke-width="2.6"/>
<polyline points="292,448 292,553.6 318.5,553.6" fill="none" stroke="#C00000" stroke-width="2.6"/>
<polygon points="326.5,553.6 315,559.35 315,547.85" fill="#C00000"/>
<rect x="242.25" y="408.25" width="98.75" height="41.75" rx="6.5" ry="6.5" fill="#E8BCC7"/>
<text x="267.12" y="436.15" font-size="17.5" font-weight="bold" fill="#000" text-anchor="start" textLength="49.5" lengthAdjust="spacingAndGlyphs">Signal</text>
<line x1="575" y1="382" x2="575" y2="411.25" stroke="#C00000" stroke-width="2.6"/>
<polyline points="575,448.5 575,553.9 600,553.9" fill="none" stroke="#C00000" stroke-width="2.6"/>
<polygon points="608,553.9 596.5,559.65 596.5,548.15" fill="#C00000"/>
<rect x="525.75" y="409.25" width="98.75" height="41.25" rx="6.5" ry="6.5" fill="#E8BCC7"/>
<text x="550.62" y="437.15" font-size="17.5" font-weight="bold" fill="#000" text-anchor="start" textLength="49.5" lengthAdjust="spacingAndGlyphs">Signal</text>
<line x1="858.75" y1="381" x2="858.75" y2="411.25" stroke="#C00000" stroke-width="2.6"/>
<polyline points="858.75,448.25 858.75,553.4 884.8,553.4" fill="none" stroke="#C00000" stroke-width="2.6"/>
<polygon points="892.8,553.4 881.3,559.15 881.3,547.65" fill="#C00000"/>
<rect x="808" y="409.25" width="98.75" height="41" rx="6.5" ry="6.5" fill="#E8BCC7"/>
<text x="832.88" y="437.15" font-size="17.5" font-weight="bold" fill="#000" text-anchor="start" textLength="49.5" lengthAdjust="spacingAndGlyphs">Signal</text>
<text x="1127.5" y="148.5" font-size="17.3" font-weight="bold" fill="#000" text-anchor="start" textLength="190.5" lengthAdjust="spacingAndGlyphs">Element-wise operator</text>
<line x1="1120.3" y1="153.2" x2="1325.7" y2="153.2" stroke="#000" stroke-width="2"/>
<polygon points="1112.3,153.2 1123.5,147.8 1123.5,158.6" fill="#000"/>
<polygon points="1333.7,153.2 1322.5,158.6 1322.5,147.8" fill="#000"/>
<text x="1131.5" y="171.8" font-size="17.3" font-weight="bold" fill="#000" text-anchor="start" textLength="182.5" lengthAdjust="spacingAndGlyphs">fused with remapping</text>
<line x1="1146.25" y1="204.5" x2="1259.74" y2="252.84" stroke="#000" stroke-width="2"/>
<polygon points="1266,255.5 1257.53,255.48 1260.12,249.41" fill="#000"/>
<line x1="1146.25" y1="240.75" x2="1260.23" y2="312" stroke="#000" stroke-width="2"/>
<polygon points="1266,315.6 1257.64,314.26 1261.13,308.67" fill="#000"/>
<line x1="1146.25" y1="271.75" x2="1259.26" y2="287.46" stroke="#000" stroke-width="2"/>
<polygon points="1266,288.4 1257.82,290.59 1258.73,284.06" fill="#000"/>
<line x1="1146.25" y1="303.25" x2="1259.32" y2="324.73" stroke="#000" stroke-width="2"/>
<polygon points="1266,326 1257.72,327.79 1258.95,321.3" fill="#000"/>
<line x1="1146.25" y1="337" x2="1260.17" y2="268.41" stroke="#000" stroke-width="2"/>
<polygon points="1266,264.9 1261.02,271.75 1257.62,266.1" fill="#000"/>
<line x1="1146.25" y1="367" x2="1260.29" y2="293.29" stroke="#000" stroke-width="2"/>
<polygon points="1266,289.6 1261.24,296.61 1257.66,291.06" fill="#000"/>
<rect x="1114" y="191.25" width="32.75" height="32.05" fill="#DEEBF7"/>
<rect x="1114" y="223.3" width="32.75" height="31.8" fill="#DEEBF7"/>
<rect x="1114" y="255.1" width="32.75" height="32.3" fill="#BDD7EE"/>
<rect x="1114" y="287.4" width="32.75" height="32.1" fill="#BDD7EE"/>
<rect x="1114" y="319.5" width="32.75" height="31.8" fill="#9DC3E6"/>
<rect x="1114" y="351.3" width="32.75" height="32.2" fill="#9DC3E6"/>
<rect x="1114.97" y="192.22" width="30.8" height="190.3" fill="none" stroke="#000" stroke-width="1.95"/>
<line x1="1114" y1="223.3" x2="1146.75" y2="223.3" stroke="#000" stroke-width="1.95"/>
<line x1="1114" y1="255.1" x2="1146.75" y2="255.1" stroke="#000" stroke-width="1.95"/>
<line x1="1114" y1="287.4" x2="1146.75" y2="287.4" stroke="#000" stroke-width="1.95"/>
<line x1="1114" y1="319.5" x2="1146.75" y2="319.5" stroke="#000" stroke-width="1.95"/>
<line x1="1114" y1="351.3" x2="1146.75" y2="351.3" stroke="#000" stroke-width="1.95"/>
<text x="1132.3" y="212.6" font-size="12.8" fill="#111" stroke="#111" stroke-width="0.3" text-anchor="middle">0</text>
<text x="1132.3" y="244.5" font-size="12.8" fill="#111" stroke="#111" stroke-width="0.3" text-anchor="middle">5</text>
<text x="1132.3" y="276.5" font-size="12.8" fill="#111" stroke="#111" stroke-width="0.3" text-anchor="middle">2</text>
<text x="1132.3" y="308.6" font-size="12.8" fill="#111" stroke="#111" stroke-width="0.3" text-anchor="middle">4</text>
<text x="1132.3" y="340.5" font-size="12.8" fill="#111" stroke="#111" stroke-width="0.3" text-anchor="middle">1</text>
<text x="1132.3" y="372.4" font-size="12.8" fill="#111" stroke="#111" stroke-width="0.3" text-anchor="middle">3</text>
<rect x="1265.25" y="239.5" width="31.75" height="32.5" fill="#DEEBF7"/>
<rect x="1297" y="239.5" width="32.25" height="32.5" fill="#9DC3E6"/>
<rect x="1265.25" y="272" width="31.75" height="32.2" fill="#BDD7EE"/>
<rect x="1297" y="272" width="32.25" height="32.2" fill="#9DC3E6"/>
<rect x="1265.25" y="304.2" width="31.75" height="32.6" fill="#BDD7EE"/>
<rect x="1297" y="304.2" width="32.25" height="32.6" fill="#DEEBF7"/>
<rect x="1266.22" y="240.47" width="62.05" height="95.35" fill="none" stroke="#000" stroke-width="1.95"/>
<line x1="1297" y1="239.5" x2="1297" y2="336.8" stroke="#000" stroke-width="1.95"/>
<line x1="1265.25" y1="272" x2="1329.25" y2="272" stroke="#000" stroke-width="1.95"/>
<line x1="1265.25" y1="304.2" x2="1329.25" y2="304.2" stroke="#000" stroke-width="1.95"/>
<text x="1283" y="260.8" font-size="12.8" fill="#111" stroke="#111" stroke-width="0.3" text-anchor="middle">0</text>
<text x="1314.3" y="260.8" font-size="12.8" fill="#111" stroke="#111" stroke-width="0.3" text-anchor="middle">1</text>
<text x="1283" y="292.8" font-size="12.8" fill="#111" stroke="#111" stroke-width="0.3" text-anchor="middle">2</text>
<text x="1314.3" y="292.8" font-size="12.8" fill="#111" stroke="#111" stroke-width="0.3" text-anchor="middle">3</text>
<text x="1283" y="324.9" font-size="12.8" fill="#111" stroke="#111" stroke-width="0.3" text-anchor="middle">4</text>
<text x="1314.3" y="324.9" font-size="12.8" fill="#111" stroke="#111" stroke-width="0.3" text-anchor="middle">5</text>
<rect x="1154.4" y="267.5" width="99.4" height="40.6" rx="6.5" ry="6.5" fill="#E8BCC7"/>
<text x="1175.2" y="294.5" font-size="17.7" font-weight="bold" fill="#000" text-anchor="start" textLength="58" lengthAdjust="spacingAndGlyphs">Remap</text>
<polyline points="1236.2,358 1236.2,333 1203.8,333 1203.8,317" fill="none" stroke="#E9BDC9" stroke-width="2.6"/>
<polygon points="1203.8,308.8 1209.4,319.6 1198.2,319.6" fill="#E9BDC9"/>
<rect x="1195.25" y="357" width="80.75" height="28" fill="#E8BCC7"/>
<rect x="1195.25" y="385" width="80.75" height="137.1" fill="#fff"/>
<rect x="1196.3" y="358.05" width="78.65" height="163" fill="none" stroke="#000" stroke-width="2.1"/>
<line x1="1195.25" y1="385" x2="1276" y2="385" stroke="#000" stroke-width="2.1"/>
<line x1="1195.25" y1="408" x2="1276" y2="408" stroke="#000" stroke-width="2.1"/>
<line x1="1195.25" y1="430.4" x2="1276" y2="430.4" stroke="#000" stroke-width="2.1"/>
<line x1="1195.25" y1="453.1" x2="1276" y2="453.1" stroke="#000" stroke-width="2.1"/>
<line x1="1195.25" y1="475.8" x2="1276" y2="475.8" stroke="#000" stroke-width="2.1"/>
<line x1="1195.25" y1="498.7" x2="1276" y2="498.7" stroke="#000" stroke-width="2.1"/>
<text x="1202.35" y="377.1" font-size="13.6" font-weight="bold" fill="#fff" text-anchor="start" textLength="66.5" lengthAdjust="spacingAndGlyphs">Map Table</text>
<text x="1209.42" y="400.9" font-size="17.2" font-weight="normal" fill="#000" text-anchor="start">0</text>
<text x="1251.92" y="400.9" font-size="17.2" font-weight="normal" fill="#000" text-anchor="start">0</text>
<line x1="1224.62" y1="395.3" x2="1245.12" y2="395.3" stroke="#000" stroke-width="1.4"/>
<polyline points="1241.12,391.7 1245.62,395.3 1241.12,398.9" fill="none" stroke="#000" stroke-width="1.4"/>
<text x="1209.42" y="424.5" font-size="17.2" font-weight="normal" fill="#000" text-anchor="start">1</text>
<text x="1251.92" y="424.5" font-size="17.2" font-weight="normal" fill="#000" text-anchor="start">4</text>
<line x1="1224.62" y1="418.9" x2="1245.12" y2="418.9" stroke="#000" stroke-width="1.4"/>
<polyline points="1241.12,415.3 1245.62,418.9 1241.12,422.5" fill="none" stroke="#000" stroke-width="1.4"/>
<text x="1209.42" y="448.3" font-size="17.2" font-weight="normal" fill="#000" text-anchor="start">2</text>
<text x="1251.92" y="448.3" font-size="17.2" font-weight="normal" fill="#000" text-anchor="start">2</text>
<line x1="1224.62" y1="442.7" x2="1245.12" y2="442.7" stroke="#000" stroke-width="1.4"/>
<polyline points="1241.12,439.1 1245.62,442.7 1241.12,446.3" fill="none" stroke="#000" stroke-width="1.4"/>
<text x="1209.42" y="472" font-size="17.2" font-weight="normal" fill="#000" text-anchor="start">3</text>
<text x="1251.92" y="472" font-size="17.2" font-weight="normal" fill="#000" text-anchor="start">5</text>
<line x1="1224.62" y1="466.4" x2="1245.12" y2="466.4" stroke="#000" stroke-width="1.4"/>
<polyline points="1241.12,462.8 1245.62,466.4 1241.12,470" fill="none" stroke="#000" stroke-width="1.4"/>
<text x="1209.42" y="495.7" font-size="17.2" font-weight="normal" fill="#000" text-anchor="start">4</text>
<text x="1251.92" y="495.7" font-size="17.2" font-weight="normal" fill="#000" text-anchor="start">3</text>
<line x1="1224.62" y1="490.1" x2="1245.12" y2="490.1" stroke="#000" stroke-width="1.4"/>
<polyline points="1241.12,486.5 1245.62,490.1 1241.12,493.7" fill="none" stroke="#000" stroke-width="1.4"/>
<text x="1209.42" y="519.6" font-size="17.2" font-weight="normal" fill="#000" text-anchor="start">5</text>
<text x="1251.92" y="519.6" font-size="17.2" font-weight="normal" fill="#000" text-anchor="start">1</text>
<line x1="1224.62" y1="514" x2="1245.12" y2="514" stroke="#000" stroke-width="1.4"/>
<polyline points="1241.12,510.4 1245.62,514 1241.12,517.6" fill="none" stroke="#000" stroke-width="1.4"/>
<line x1="13.5" y1="652.6" x2="1349" y2="652.6" stroke="#000" stroke-width="3"/>
<polygon points="1358.5,652.8 1346.5,658.55 1346.5,647.05" fill="#000"/>
<text x="1262.5" y="638.75" font-size="20.8" font-weight="bold" fill="#000" text-anchor="start" textLength="83.5" lengthAdjust="spacingAndGlyphs">Timeline</text>
</svg>
</body>
</html>
